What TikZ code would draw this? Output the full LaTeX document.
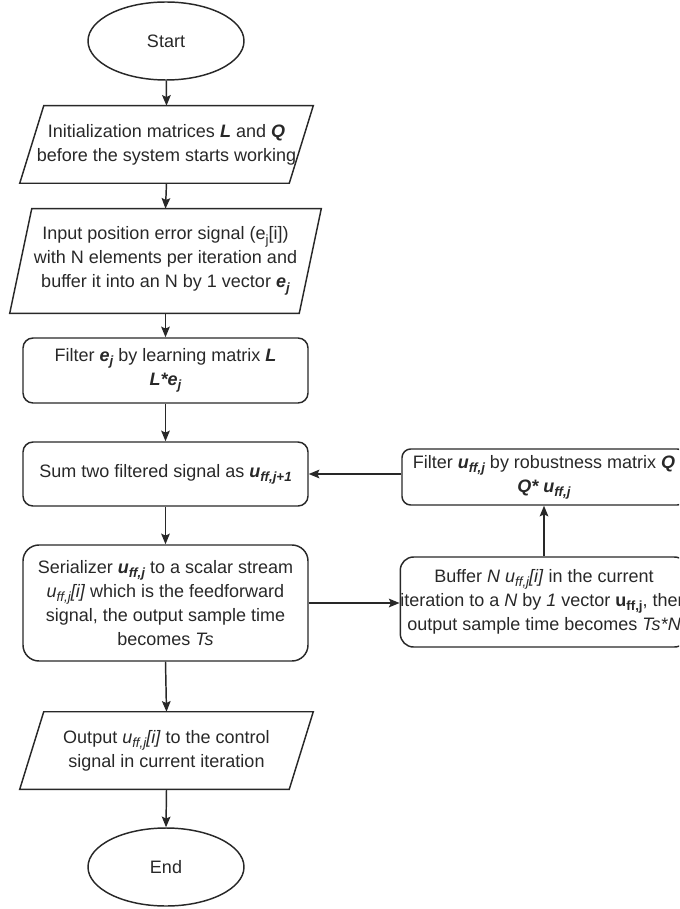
\documentclass[tikz,border=0pt]{standalone}
\usepackage{fontspec}
\setmainfont{Liberation Sans}
\usetikzlibrary{shapes.geometric,arrows.meta,calc}
\definecolor{ink}{RGB}{40,40,40}
\newcommand{\bi}[1]{\textbf{\textit{#1}}}
\newcommand{\lsub}[1]{\raisebox{-0.45ex}{\fontsize{10pt}{10pt}\selectfont #1}}
\tikzset{
  every node/.style={font=\fontsize{13.5pt}{18pt}\selectfont, text=ink, align=center, inner sep=0pt},
  lin/.style={draw=ink, line width=1.1pt},
  arr/.style={lin, -{Stealth[length=8pt,width=6.5pt,inset=1.5pt]}},
  oval/.style={ellipse, lin, minimum width=117pt, minimum height=58.5pt},
  rbox/.style={rectangle, lin, minimum width=213.75pt},
  pbox/.style={rectangle},
}
\begin{document}
\begin{tikzpicture}[x=0.75pt,y=-0.75pt]
\useasboundingbox (0,0) rectangle (679,909);
\clip (0,0) rectangle (679,909);
% main column
\node[oval] (start) at (166,41) {Start};
\node[pbox, minimum width=219.75pt, minimum height=57.75pt] (p1) at (166.5,144.5)
  {Initialization matrices \bi{L} and \bi{Q}\\before the system starts working};
\node[pbox, minimum width=233.25pt, minimum height=78pt] (p2) at (165.5,261)
  {Input position error signal (e\lsub{j}[i])\\with N elements per iteration and\\buffer it into an N by 1 vector \bi{e\lsub{j}}};
\node[rbox, minimum height=48.75pt, rounded corners=7.5pt] (f) at (165.5,370.5)
  {Filter \bi{e\lsub{j}} by learning matrix \bi{L}\\\bi{L*e\lsub{j}}};
\node[rbox, minimum height=48pt, rounded corners=7.5pt] (sum) at (165.5,474)
  {Sum two filtered signal as \bi{u\lsub{ff,j+1}}};
\node[rbox, minimum height=87pt, rounded corners=12pt] (ser) at (165.5,603)
  {Serializer \bi{u\lsub{ff,j}} to a scalar stream\\\textit{u\lsub{ff,j}[i]} which is the feedforward\\signal, the output sample time\\becomes \textit{Ts}};
\node[pbox, minimum width=219.75pt, minimum height=57.75pt] (out) at (166.5,750.5)
  {Output \textit{u\lsub{ff,j}[i]} to the control\\signal in current iteration};
\node[oval] (end) at (166,867) {End};
% parallelogram outlines
\draw[lin] ([xshift=18pt]p1.north west) -- (p1.north east) -- ([xshift=-18pt]p1.south east) -- (p1.south west) -- cycle;
\draw[lin] ([xshift=16.5pt]p2.north west) -- (p2.north east) -- ([xshift=-16.5pt]p2.south east) -- (p2.south west) -- cycle;
\draw[lin] ([xshift=18pt]out.north west) -- (out.north east) -- ([xshift=-18pt]out.south east) -- (out.south west) -- cycle;
% right column
\node[rbox, minimum width=213pt, minimum height=42pt, rounded corners=6.5pt] (q) at (544,477)
  {Filter \bi{u\lsub{ff,j}} by robustness matrix \bi{Q}\\\bi{Q* u\lsub{ff,j}}};
\node[rbox, minimum width=213pt, minimum height=67.5pt, rounded corners=10pt] (buf) at (544,602)
  {Buffer \textit{N} \textit{u\lsub{ff,j}[i]} in the current\\iteration to a \textit{N} by \textit{1} vector \textbf{u\lsub{ff,j}}, then\\output sample time becomes \textit{Ts*N}};
% connectors
\draw[arr] (start) -- (p1.north);
\draw[arr] (p1.south) -- (p2.north);
\draw[arr] (p2.south) -- (f.north);
\draw[arr] (f.south) -- (sum.north);
\draw[arr] (sum.south) -- (ser.north);
\draw[arr] (ser.south) -- (out.north);
\draw[arr] (out.south) -- (end.north);
\draw[arr] (ser.east) -- (ser.east -| buf.west);
\draw[arr] (buf.north) -- (q.south);
\draw[arr] (q.west |- sum.east) -- (sum.east);
\end{tikzpicture}
\end{document}
